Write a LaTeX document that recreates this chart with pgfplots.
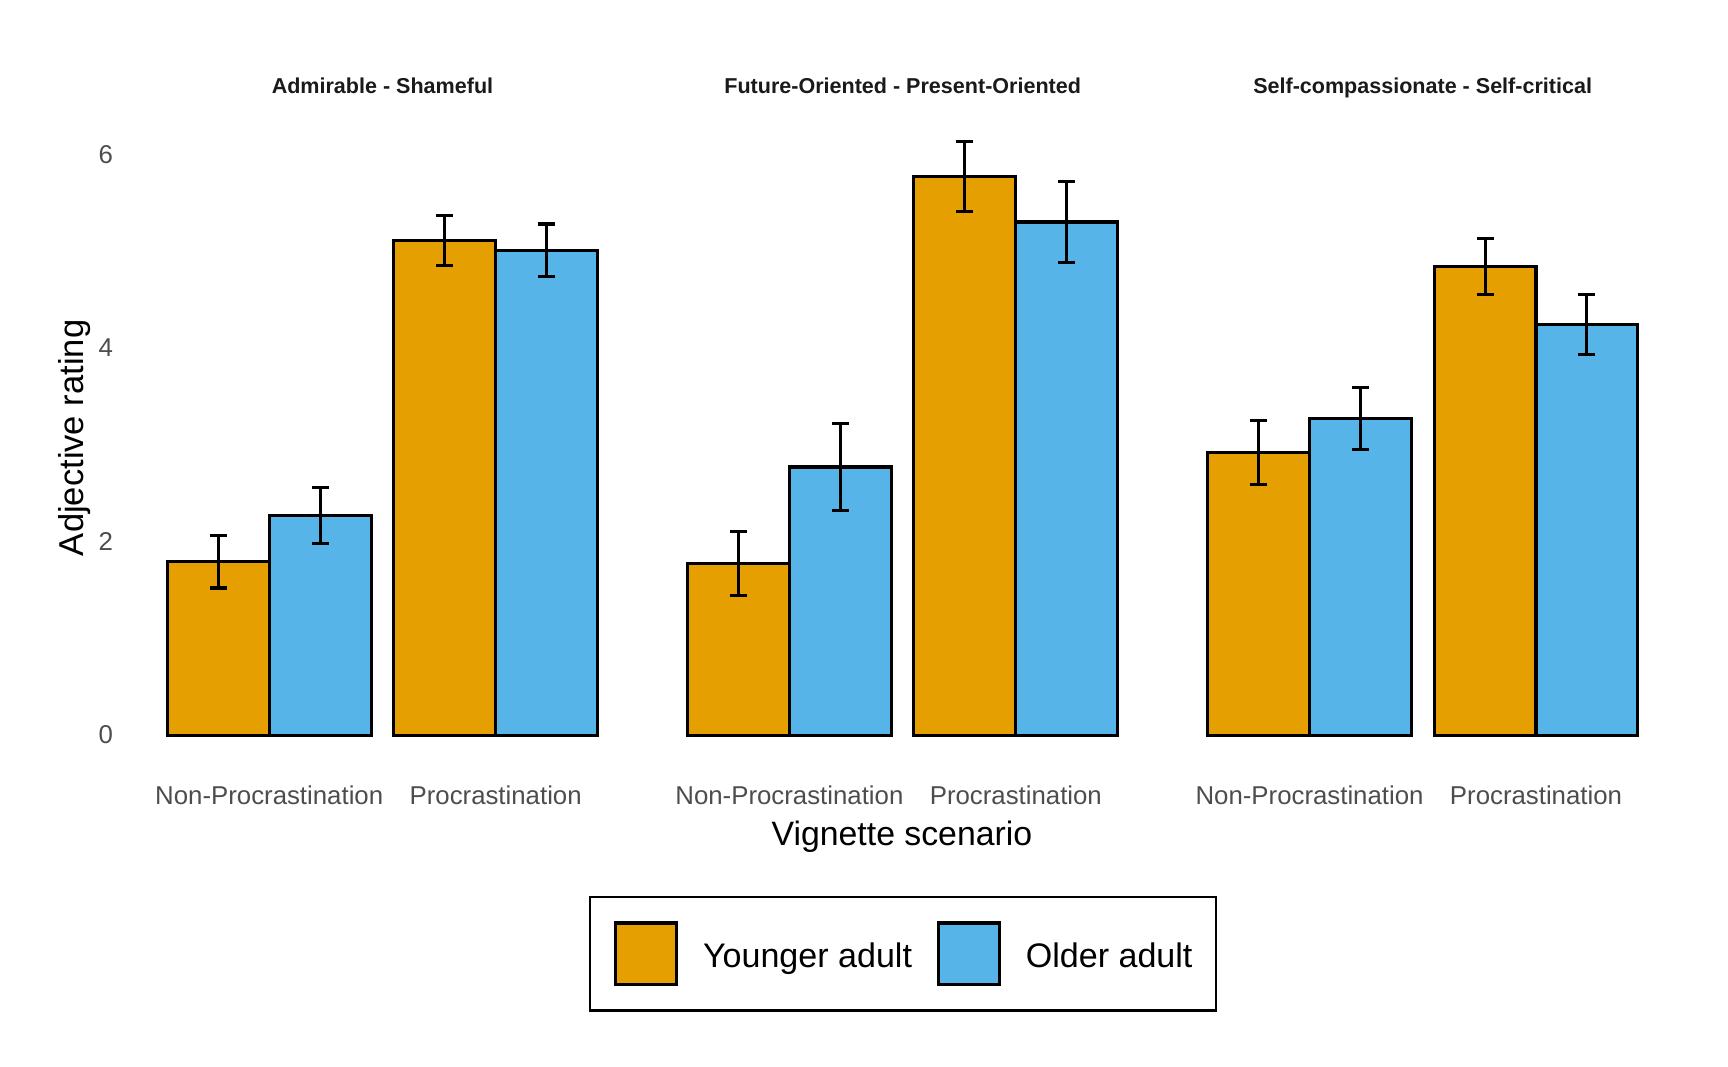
\documentclass[border=0pt]{standalone}
\usepackage{pgfplots}
\pgfplotsset{compat=1.18}
\usepackage{fontspec}
\setmainfont{Liberation Sans}
\definecolor{cYoung}{HTML}{E69F00}
\definecolor{cOld}{HTML}{56B4E9}
\definecolor{cTick}{HTML}{4D4D4D}
\definecolor{cStrip}{HTML}{1A1A1A}

\pgfplotsset{
  panel/.style={
    scale only axis,
    width=198.9pt, height=261.05pt,
    xmin=0.4, xmax=2.6, ymin=-0.307, ymax=6.447,
    axis line style={draw=none},
    major tick length=0pt,
    tick style={draw=none},
    xtick={1,2},
    xticklabels={Non-Procrastination,Procrastination},
    xticklabel style={anchor=base, inner sep=0pt, yshift=-15.84pt,
      font=\fontsize{10.3}{12}\selectfont, text=cTick},
    yticklabel style={anchor=east, inner sep=0pt, xshift=-7.9pt,
      font=\fontsize{10.3}{12}\selectfont, text=cTick},
    /pgf/number format/assume math mode=true,
    clip=false,
  },
  ybars/.style={
    ybar, bar width=0.45, bar shift=0pt, draw=black, line width=1.25pt,
    error bars/y dir=both, error bars/y explicit,
    error bars/error bar style={line width=1.2pt, black},
    error bars/error mark=-,
    error bars/error mark options={line width=1.25pt, mark size=3.4pt, black, rotate=90},
  },
  young/.style={ybars, fill=cYoung},
  old/.style={ybars, fill=cOld},
}

\begin{document}
\begin{tikzpicture}
\path[use as bounding box] (0,0) rectangle (689.92pt,425.92pt);

% Panel 1: Admirable - Shameful
\begin{axis}[panel, at={(53.24pt,120.56pt)}, anchor=south west,
  ytick={0,2,4,6}]
\addplot[young] coordinates {(0.775,1.79) +- (0,0.27) (1.775,5.11) +- (0,0.26)};
\addplot[old] coordinates {(1.225,2.27) +- (0,0.29) (2.225,5.01) +- (0,0.27)};
\end{axis}

% Panel 2: Future-Oriented - Present-Oriented
\begin{axis}[panel, at={(260.92pt,120.56pt)}, anchor=south west,
  ytick=\empty,
  legend columns=2,
  legend cell align=left,
  legend style={at={(0.501,-0.2006)}, anchor=north, draw=black, line width=0.9pt,
    inner xsep=9.5pt, inner ysep=9.7pt, column sep=9.8pt,
    nodes={inner sep=0pt},
    font=\fontsize{13.6}{16}\selectfont},
  legend image code/.code={\draw[#1, line width=1.25pt] (0pt,-10.9pt) rectangle (24.6pt,13.7pt);},
]
\addplot[young] coordinates {(0.775,1.77) +- (0,0.33) (1.775,5.77) +- (0,0.36)};
\addplot[old] coordinates {(1.225,2.77) +- (0,0.45) (2.225,5.30) +- (0,0.42)};
\legend{Younger adult, Older adult}
\end{axis}

% Panel 3: Self-compassionate - Self-critical
\begin{axis}[panel, at={(468.6pt,120.56pt)}, anchor=south west,
  ytick=\empty]
\addplot[young] coordinates {(0.775,2.92) +- (0,0.33) (1.775,4.84) +- (0,0.29)};
\addplot[old] coordinates {(1.225,3.27) +- (0,0.32) (2.225,4.24) +- (0,0.31)};
\end{axis}

% Strip titles
\begin{scope}[every node/.style={anchor=base, inner sep=0pt, text=cStrip,
    font=\fontsize{8.6}{10}\selectfont\bfseries}]
\node at (152.7pt,388.4pt) {Admirable - Shameful};
\node at (360.4pt,388.4pt) {Future-Oriented - Present-Oriented};
\node at (568.0pt,388.4pt) {Self-compassionate - Self-critical};
\end{scope}

% Axis titles
\node[anchor=base, inner sep=0pt, font=\fontsize{13.5}{16}\selectfont] at (360.1pt,88.3pt) {Vignette scenario};
\node[anchor=base, inner sep=0pt, rotate=90, font=\fontsize{13.8}{16}\selectfont] at (33.3pt,251.1pt) {Adjective rating};
\end{tikzpicture}
\end{document}
